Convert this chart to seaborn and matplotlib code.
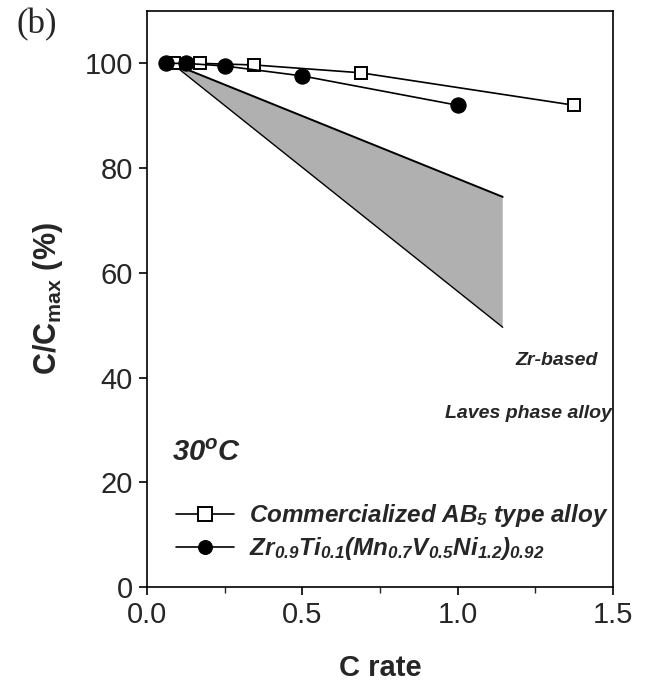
import matplotlib
matplotlib.use("Agg")
import matplotlib.pyplot as plt
import seaborn as sns
import pandas as pd

# ---- data ----
ab5_rate = [0.086, 0.172, 0.344, 0.688, 1.375]
ab5_cap = [100.0, 100.0, 99.7, 98.2, 92.0]
zr_rate = [0.0625, 0.125, 0.25, 0.5, 1.0]
zr_cap = [100.0, 100.0, 99.5, 97.6, 92.0]
wedge_x = [0.08, 1.145]
wedge_upper = [100.0, 74.5]
wedge_lower = [100.0, 49.6]
ab5_label = "Commercialized AB$_5$ type alloy"
zr_label = "Zr$_{0.9}$Ti$_{0.1}$(Mn$_{0.7}$V$_{0.5}$Ni$_{1.2}$)$_{0.92}$"

sns.set_style("ticks")
plt.rcParams["font.family"] = ["Liberation Sans", "DejaVu Sans"]
plt.rcParams["mathtext.fontset"] = "custom"
plt.rcParams["mathtext.rm"] = "Liberation Sans:bold:italic"
plt.rcParams["mathtext.it"] = "Liberation Sans:bold:italic"
plt.rcParams["mathtext.sf"] = "Liberation Sans:bold"
plt.rcParams["mathtext.bf"] = "Liberation Sans:bold"

fig = plt.figure(figsize=(6.49, 6.89), dpi=100)
ax = fig.add_axes([147/649, 1-587/689, (613-147)/649, (587-11)/689])

# shaded Laves-phase band
ax.fill_between(wedge_x, wedge_lower, wedge_upper, facecolor="#b0b0b0",
                edgecolor="none", zorder=1)
ax.plot(wedge_x, wedge_upper, color="black", lw=1.4, zorder=2)
ax.plot(wedge_x, wedge_lower, color="black", lw=1.0, zorder=2)

df_ab5 = pd.DataFrame({"rate": ab5_rate, "cap": ab5_cap})
df_zr = pd.DataFrame({"rate": zr_rate, "cap": zr_cap})

sns.lineplot(data=df_ab5, x="rate", y="cap", ax=ax, color="black", lw=1.2,
             marker="s", markersize=9, markerfacecolor="white",
             markeredgecolor="black", markeredgewidth=1.4,
             label=ab5_label, zorder=3)
sns.lineplot(data=df_zr, x="rate", y="cap", ax=ax, color="black", lw=1.2,
             marker="o", markersize=11, markerfacecolor="black",
             markeredgecolor="black", label=zr_label, zorder=4)

ax.set_xlim(0, 1.5)
ax.set_ylim(0, 110)
ax.set_xticks([0.0, 0.5, 1.0, 1.5])
ax.set_xticklabels(["0.0", "0.5", "1.0", "1.5"])
ax.set_xticks([0.25, 0.75, 1.25], minor=True)
ax.set_yticks([0, 20, 40, 60, 80, 100])
ax.tick_params(axis="both", which="major", labelsize=21, length=6,
               width=1.2, direction="out", color="black", pad=4)
ax.tick_params(axis="x", which="minor", length=4, width=1.0, direction="out")
for s in ax.spines.values():
    s.set_visible(True)
    s.set_linewidth(1.2)
    s.set_color("black")

ax.set_xlabel("C rate", fontsize=21, fontweight="bold", labelpad=18)
ax.set_ylabel("C/C$_{\\mathsf{max}}$ (%)", fontsize=22, fontweight="bold",
              labelpad=14)

ax.text(1.45, 43.3, "Zr-based", fontsize=14, fontweight="bold",
        style="italic", ha="right", va="center")
ax.text(1.495, 33.2, "Laves phase alloy", fontsize=14, fontweight="bold",
        style="italic", ha="right", va="center")
ax.text(0.08, 25.6, "30$^{o}$C", fontsize=21, fontweight="bold",
        style="italic", va="center")

leg = ax.legend(loc="lower left", bbox_to_anchor=(0.015, 0.005), frameon=False,
                handlelength=2.4, handletextpad=0.6, labelspacing=0.25,
                prop={"size": 17.5, "weight": "bold", "style": "italic"})
for h in leg.legend_handles:
    h.set_markersize(10)

fig.text(0.025, 0.952, "(b)", fontsize=25, family=["Liberation Serif", "DejaVu Serif"])

fig.savefig("out.png", dpi=100)
